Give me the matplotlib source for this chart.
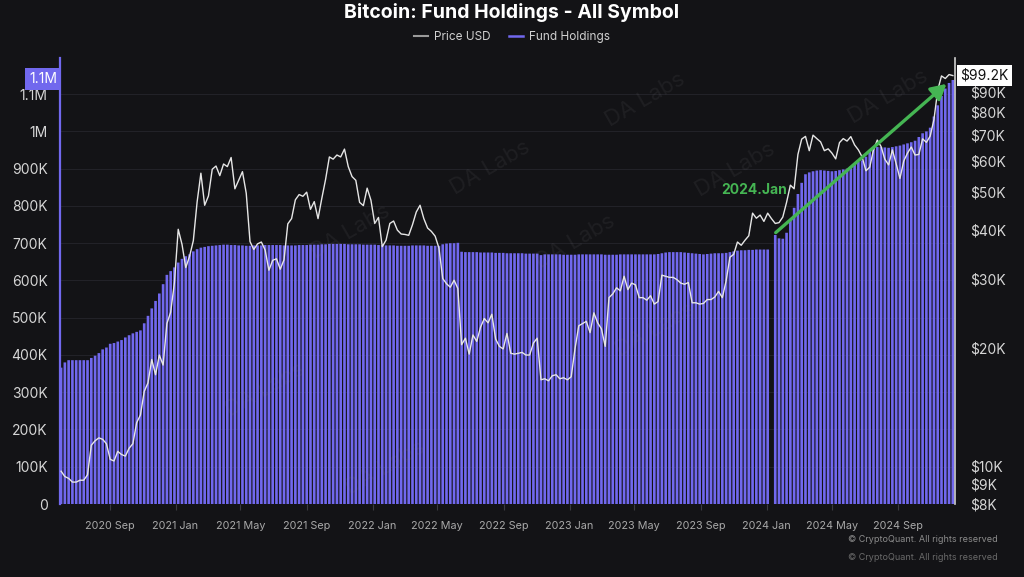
import numpy as np
import pandas as pd
import matplotlib
matplotlib.use("Agg")
import matplotlib.pyplot as plt
import matplotlib.dates as mdates
import matplotlib.ticker as mticker
import matplotlib.transforms as mtransforms
from matplotlib.lines import Line2D

###############################
# Weekly data, price in $K, holdings in K BTC
price_2020 = [9.7, 9.4, 9.3, 9.1, 9.1, 9.2, 9.2, 9.5, 11.3, 11.6, 11.8, 11.7, 11.4,
              10.4, 10.3, 10.9, 10.7, 10.6, 11.1, 11.4, 12.9, 13.5, 15.5, 16.3, 18.7,
              17.1, 19.2, 18.1, 23.1, 24.7]
price_2021 = [29.4, 40.2, 36.8, 32.1, 34.3, 37.6, 47.2, 55.9, 46.3, 48.9, 57.2, 58.3,
              55.1, 59.0, 58.1, 61.3, 51.0, 53.6, 56.4, 49.7, 37.4, 35.7, 36.9, 37.3,
              35.6, 31.6, 33.5, 33.8, 31.8, 33.6, 41.5, 42.8, 47.8, 49.3, 48.8, 50.0,
              45.2, 47.3, 42.8, 48.2, 53.9, 61.5, 60.7, 62.2, 61.5, 64.4, 58.1, 54.8,
              53.6, 47.1, 46.2, 51.2, 47.7]
price_2022 = [41.6, 43.1, 36.3, 37.7, 41.6, 42.2, 40.0, 39.1, 39.0, 38.8, 41.3, 44.5,
              46.3, 42.8, 40.5, 39.7, 38.6, 36.0, 30.1, 29.2, 28.6, 29.8, 28.4, 20.4,
              21.2, 19.3, 21.6, 20.8, 22.6, 23.8, 23.2, 24.4, 21.1, 20.2, 19.9, 21.8,
              19.4, 19.3, 19.4, 19.5, 19.2, 19.2, 20.6, 21.2, 16.6, 16.7, 16.5, 17.0,
              17.1, 16.7, 16.8, 16.6]
price_2023 = [16.9, 19.9, 22.8, 23.1, 23.4, 21.9, 24.6, 23.2, 22.4, 20.2, 26.9, 27.5,
              28.5, 28.0, 30.5, 28.2, 29.3, 29.0, 26.9, 26.9, 26.5, 27.2, 25.9, 26.3,
              30.7, 30.5, 30.3, 30.3, 29.9, 29.3, 29.1, 29.4, 26.1, 26.1, 25.9, 26.0,
              26.6, 26.6, 27.0, 27.9, 26.9, 29.7, 34.1, 34.7, 37.3, 36.6, 37.7, 38.7,
              44.2, 42.9, 43.7, 42.1]
price_2024 = [44.2, 42.8, 41.6, 41.8, 43.2, 47.1, 52.1, 51.0, 62.4, 68.3, 69.4, 63.8,
              69.9, 68.5, 67.2, 63.8, 64.5, 62.9, 60.8, 66.9, 68.5, 67.5, 69.3, 66.0,
              64.1, 61.5, 56.7, 57.9, 64.1, 67.9, 65.4, 60.7, 58.7, 64.1, 59.1, 54.2,
              60.0, 62.9, 65.2, 62.2, 62.4, 68.4, 67.0, 69.5, 76.6, 91.1, 99.0, 97.5,
              99.8, 99.2]

hold_2020 = [366, 380, 386, 386, 386, 386, 386, 386, 392, 398, 405, 415, 420, 430, 432,
             436, 440, 447, 453, 458, 462, 466, 485, 505, 525, 545, 565, 590, 615, 625]
hold_2021 = [635, 648, 658, 665, 670, 678, 684, 688, 690, 692, 693, 694, 695, 696, 696,
             695, 695, 694, 694, 693, 693, 694, 694, 694, 695, 695, 695, 695, 695, 694,
             694, 694, 694, 695, 695, 695, 696, 696, 696, 697, 697, 698, 698, 698, 698,
             698, 697, 697, 697, 697, 696, 696, 696]
hold_2022 = [696, 695, 695, 694, 694, 694, 693, 693, 693, 693, 694, 694, 694, 694, 693,
             693, 693, 693, 697, 699, 700, 700, 701, 677, 676, 676, 676, 676, 675, 675,
             675, 675, 674, 674, 674, 673, 673, 673, 673, 673, 672, 672, 672, 672, 668,
             670, 670, 670, 670, 670, 669, 669]
hold_2023 = [669, 669, 670, 670, 670, 670, 670, 670, 670, 669, 669, 669, 669, 670, 670,
             670, 670, 670, 670, 670, 670, 670, 670, 671, 673, 675, 676, 676, 676, 676,
             675, 674, 673, 672, 671, 670, 671, 672, 673, 673, 673, 674, 676, 678, 680,
             681, 681, 682, 682, 683, 683, 683]
hold_2024 = [683, 0, 722, 713, 712, 728, 762, 795, 832, 862, 885, 890, 893, 895, 896,
             895, 894, 893, 894, 896, 898, 900, 905, 912, 918, 922, 932, 948, 956, 958,
             958, 957, 956, 958, 960, 962, 965, 968, 971, 975, 985, 995, 1000, 1010,
             1040, 1070, 1095, 1115, 1130, 1138]

left_ticks = [0, 100e3, 200e3, 300e3, 400e3, 500e3, 600e3, 700e3, 800e3, 900e3, 1e6, 1.1e6]
right_ticks = [8e3, 9e3, 10e3, 20e3, 30e3, 40e3, 50e3, 60e3, 70e3, 80e3, 90e3]
###############################

plt.rcParams["font.family"] = ["Inter", "DejaVu Sans"]

BG = "#131316"
PURPLE = "#7168EE"
GREEN = "#45B553"

price = np.array(price_2020 + price_2021 + price_2022 + price_2023 + price_2024) * 1000
holdings = np.array(hold_2020 + hold_2021 + hold_2022 + hold_2023 + hold_2024) * 1000
dates = pd.date_range("2020-06-03", periods=len(price), freq="7D")

fig = plt.figure(figsize=(10.24, 5.77), dpi=100, facecolor=BG)
ax = fig.add_axes([60 / 1024, 1 - 504 / 577, 895 / 1024, 446 / 577])
ax.set_facecolor(BG)

# fund holdings bars
bars = ax.bar(dates, holdings, width=4.9, color=PURPLE, linewidth=0, zorder=2)
for b in bars:
    b.set_snap(False)
ax.set_ylim(0, 1.197e6)
ax.set_xlim(pd.Timestamp("2020-06-01"), pd.Timestamp("2024-12-15"))
ax.set_yticks(left_ticks)


def kfmt(v, pos):
    if v == 0:
        return "0"
    if v >= 1e6:
        return f"{v / 1e6:g}M"
    return f"{v / 1e3:g}K"


ax.yaxis.set_major_formatter(mticker.FuncFormatter(kfmt))
ax.tick_params(axis="y", colors="#d6d6d6", labelsize=10, length=0, pad=9)
ax.grid(axis="y", color="#222228", lw=0.8, zorder=0)
ax.set_axisbelow(True)

ax.xaxis.set_major_locator(mdates.MonthLocator(bymonth=[1, 5, 9]))
ax.xaxis.set_major_formatter(mdates.DateFormatter("%Y %b"))
ax.tick_params(axis="x", colors="#3a3a40", labelcolor="#a8a8a8", labelsize=7.8,
               length=4, pad=8)

for s in ["top", "bottom", "right"]:
    ax.spines[s].set_visible(False)
ax.spines["left"].set_color(PURPLE)
ax.spines["left"].set_linewidth(1.6)

# price line on log axis
ax2 = ax.twinx()
ax2.plot(dates, price, color="#e6e6e6", lw=1.0, zorder=3)
ax2.set_yscale("log")
ax2.set_ylim(8000, 110000)
ax2.yaxis.set_major_locator(mticker.FixedLocator(right_ticks))
ax2.yaxis.set_minor_locator(mticker.NullLocator())
ax2.yaxis.set_major_formatter(mticker.FuncFormatter(lambda v, p: f"${v / 1e3:g}K"))
ax2.tick_params(axis="y", colors="#d6d6d6", labelsize=10, length=0, pad=11)
for s in ["top", "bottom", "left"]:
    ax2.spines[s].set_visible(False)
ax2.spines["right"].set_color("#d0d0d0")
ax2.spines["right"].set_linewidth(1.2)

# crosshair value labels
ax.text(-0.003, 1.14e6, "1.1M", transform=mtransforms.blended_transform_factory(ax.transAxes, ax.transData),
        ha="right", va="center", color="white", fontsize=10,
        bbox=dict(boxstyle="square,pad=0.3", fc=PURPLE, ec="none"))
ax2.text(1.006, 99200, "$99.2K", transform=mtransforms.blended_transform_factory(ax2.transAxes, ax2.transData),
         ha="left", va="center", color="#111111", fontsize=10,
         bbox=dict(boxstyle="square,pad=0.25", fc="white", ec="none"))

# annotation
ax2.annotate("", xy=(pd.Timestamp("2024-12-03"), 95500), xytext=(pd.Timestamp("2024-01-14"), 39000),
             arrowprops=dict(arrowstyle="-|>,head_length=0.9,head_width=0.5", color=GREEN, lw=2.4),
             zorder=5)
ax2.text(pd.Timestamp("2023-12-08"), 50500, "2024.Jan", color=GREEN, fontsize=10,
         fontweight="bold", ha="center", va="center", zorder=5)

# watermarks
for (px, py) in [(645, 100), (888, 97), (490, 168), (735, 170), (350, 232), (575, 242),
                 (655, 330), (265, 390), (385, 468)]:
    fig.text(px / 1024, 1 - py / 577, "DA Labs", color="#8a8a90", alpha=0.1, fontsize=16,
             rotation=30, ha="center", va="center")

# title and legend
fig.text(0.5, 1 - 12 / 577, "Bitcoin: Fund Holdings - All Symbol", color="white",
         fontsize=14, fontweight="bold", ha="center", va="center")
handles = [Line2D([], [], color="#9a9a9a", lw=1.5), Line2D([], [], color=PURPLE, lw=1.8)]
fig.legend(handles, ["Price USD", "Fund Holdings"], loc="center", bbox_to_anchor=(0.5, 1 - 37 / 577),
           ncol=2, frameon=False, fontsize=8.5, labelcolor="#d0d0d0", handlelength=1.2,
           handletextpad=0.5, columnspacing=1.5)

# footer
fig.text(998 / 1024, 1 - 539 / 577, "© CryptoQuant. All rights reserved", color="#8c8c8c",
         fontsize=6.5, ha="right", va="center")
fig.text(998 / 1024, 1 - 558 / 577, "© CryptoQuant. All rights reserved", color="#6a6a6a",
         fontsize=6.5, ha="right", va="center")

fig.savefig("out.png", dpi=100, facecolor=BG)
